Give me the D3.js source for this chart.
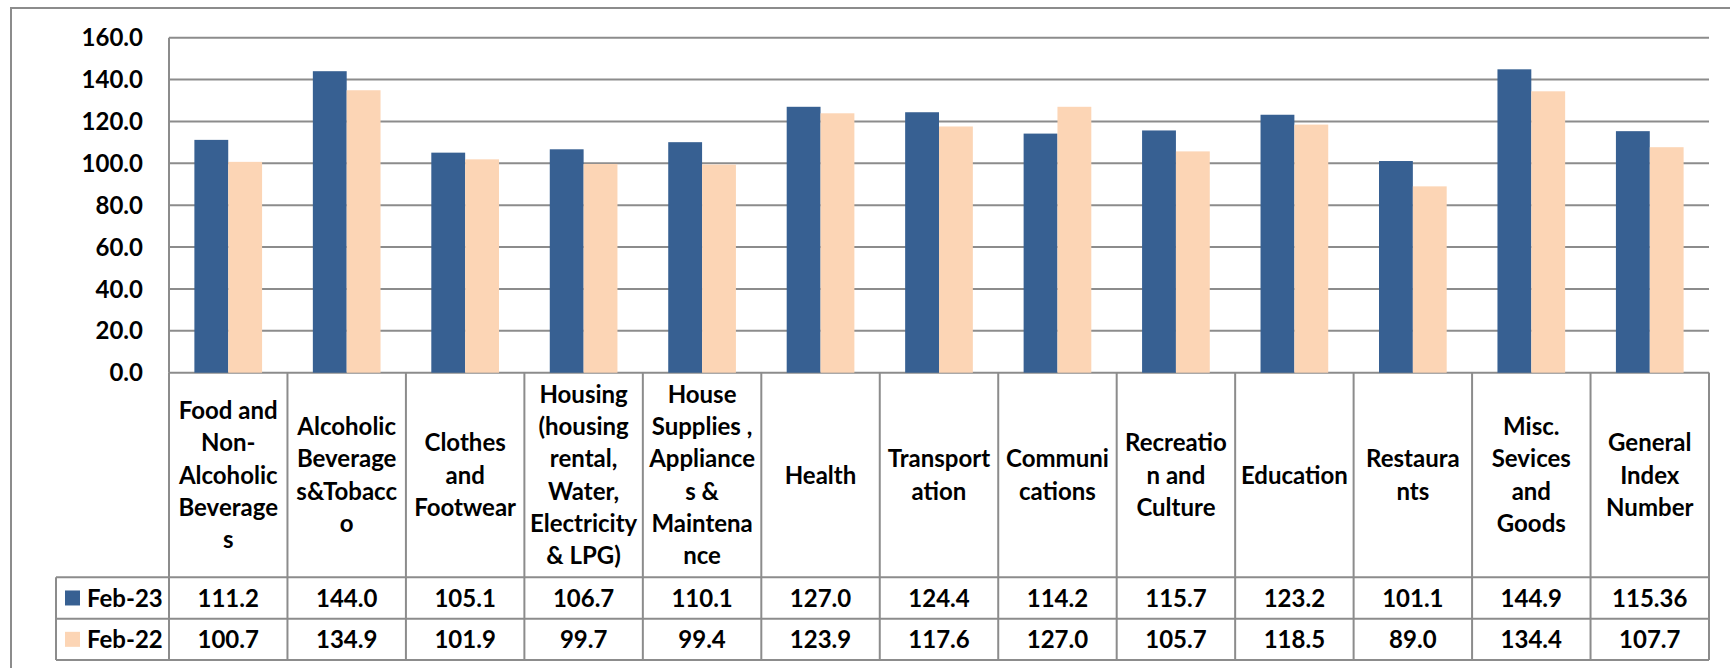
<!DOCTYPE html>
<html>
<head>
<meta charset="utf-8">
<script src="https://cdn.jsdelivr.net/npm/d3@7"></script>
<style>
	body { margin: 0; background: #fff; }
	svg text { font-family: Lato, "Open Sans", sans-serif; font-weight: bold; fill: #000; }
</style>
</head>
<body>
<div id="chart"></div>
<script>
// category labels, already broken into lines as in the table header
const categories = [
	["Food and", "Non-", "Alcoholic", "Beverage", "s"],
	["Alcoholic", "Beverage", "s&Tobacc", "o"],
	["Clothes", "and", "Footwear"],
	["Housing", "(housing", "rental,", "Water,", "Electricity", "& LPG)"],
	["House", "Supplies ,", "Appliance", "s &", "Maintena", "nce"],
	["Health"],
	["Transport", "ation"],
	["Communi", "cations"],
	["Recreatio", "n and", "Culture"],
	["Education"],
	["Restaura", "nts"],
	["Misc.", "Sevices", "and", "Goods"],
	["General", "Index", "Number"]
];
const seriesNames = ["Feb-23", "Feb-22"];
const feb23 = [111.2, 144.0, 105.1, 106.7, 110.1, 127.0, 124.4, 114.2, 115.7, 123.2, 101.1, 144.9, 115.36];
const feb22 = [100.7, 134.9, 101.9, 99.7, 99.4, 123.9, 117.6, 127.0, 105.7, 118.5, 89.0, 134.4, 107.7];
const feb23Labels = ["111.2", "144.0", "105.1", "106.7", "110.1", "127.0", "124.4", "114.2", "115.7", "123.2", "101.1", "144.9", "115.36"];
const feb22Labels = ["100.7", "134.9", "101.9", "99.7", "99.4", "123.9", "117.6", "127.0", "105.7", "118.5", "89.0", "134.4", "107.7"];
const yTicks = [0, 20, 40, 60, 80, 100, 120, 140, 160];

const colors = ["#376092", "#fcd5b5"];
const gridColor = "#8c8c8c";

const width = 1730, height = 668;
const svg = d3.select("#chart").append("svg")
	.attr("width", width)
	.attr("height", height);

// outer chart frame (right and bottom edges fall outside the picture)
svg.append("rect")
	.attr("x", 11).attr("y", 8)
	.attr("width", 1800).attr("height", 800)
	.attr("fill", "none")
	.attr("stroke", gridColor)
	.attr("stroke-width", 2);

const idx = d3.range(categories.length);
const x = d3.scaleBand()
	.domain(idx)
	.range([169, 1709])
	.paddingInner(0).paddingOuter(0);
const x1 = d3.scaleBand()
	.domain(seriesNames)
	.range([0, x.bandwidth()])
	.paddingInner(0)
	.paddingOuter(0.75);
const y = d3.scaleLinear()
	.domain([0, 160])
	.range([372.7, 37.7]);

// gridlines
svg.append("g")
	.selectAll("line")
	.data(yTicks)
	.enter().append("line")
	.attr("x1", 169).attr("x2", 1709)
	.attr("y1", d => y(d)).attr("y2", d => y(d))
	.attr("stroke", gridColor)
	.attr("stroke-width", 2);

// left axis line
svg.append("line")
	.attr("x1", 169).attr("x2", 169)
	.attr("y1", y(160)).attr("y2", y(0))
	.attr("stroke", gridColor)
	.attr("stroke-width", 2);

// y tick labels
svg.append("g")
	.selectAll("text")
	.data(yTicks)
	.enter().append("text")
	.attr("x", 143)
	.attr("y", d => y(d))
	.attr("dy", "0.36em")
	.attr("text-anchor", "end")
	.style("font-size", "24px")
	.text(d => d.toFixed(1));

// bars
const seriesData = [feb23, feb22];
seriesData.forEach((vals, s) => {
	svg.append("g")
		.selectAll("rect")
		.data(vals)
		.enter().append("rect")
		.attr("x", (d, i) => x(i) + x1(seriesNames[s]))
		.attr("y", d => y(d))
		.attr("width", x1.bandwidth())
		.attr("height", d => y(0) - y(d))
		.attr("fill", colors[s]);
});

// data table
const headTop = y(0), headBottom = 577.3;
const rowH = 41.35;
const rowsTop = [headBottom, headBottom + rowH];
const tableBottom = headBottom + 2 * rowH;
const legendLeft = 56;

const tbl = svg.append("g");
// vertical separators
idx.concat([categories.length]).forEach(i => {
	const xx = i < categories.length ? x(i) : x.range()[1];
	tbl.append("line")
		.attr("x1", xx).attr("x2", xx)
		.attr("y1", headTop).attr("y2", tableBottom)
		.attr("stroke", gridColor).attr("stroke-width", 2);
});
tbl.append("line")
	.attr("x1", legendLeft).attr("x2", legendLeft)
	.attr("y1", headBottom).attr("y2", tableBottom)
	.attr("stroke", gridColor).attr("stroke-width", 2);
// horizontal lines
[headBottom, headBottom + rowH, tableBottom].forEach(yy => {
	tbl.append("line")
		.attr("x1", legendLeft).attr("x2", x.range()[1])
		.attr("y1", yy).attr("y2", yy)
		.attr("stroke", gridColor).attr("stroke-width", 2);
});
tbl.append("line")
	.attr("x1", x.range()[1]).attr("x2", x.range()[1])
	.attr("y1", headTop).attr("y2", tableBottom)
	.attr("stroke", gridColor).attr("stroke-width", 2);

// category header text
const lineH = 32.3;
const headMid = (headTop + headBottom) / 2;
categories.forEach((lines, i) => {
	const t = tbl.append("text")
		.attr("text-anchor", "middle")
		.style("font-size", "24px");
	const y0 = headMid - (lines.length - 1) * lineH / 2;
	lines.forEach((ln, k) => {
		t.append("tspan")
			.attr("x", x(i) + x.bandwidth() / 2)
			.attr("y", y0 + k * lineH)
			.attr("dy", "0.36em")
			.text(ln);
	});
});

// value rows
[feb23Labels, feb22Labels].forEach((labels, s) => {
	const cy = rowsTop[s] + rowH / 2;
	tbl.append("g")
		.selectAll("text")
		.data(labels)
		.enter().append("text")
		.attr("x", (d, i) => x(i) + x.bandwidth() / 2)
		.attr("y", cy)
		.attr("dy", "0.36em")
		.attr("text-anchor", "middle")
		.style("font-size", "24px")
		.text(d => d);
	// legend key
	tbl.append("rect")
		.attr("x", 65).attr("y", cy - 7.5)
		.attr("width", 15).attr("height", 15)
		.attr("fill", colors[s]);
	tbl.append("text")
		.attr("x", 87).attr("y", cy)
		.attr("dy", "0.36em")
		.style("font-size", "24px")
		.text(seriesNames[s]);
});
</script>
</body>
</html>
